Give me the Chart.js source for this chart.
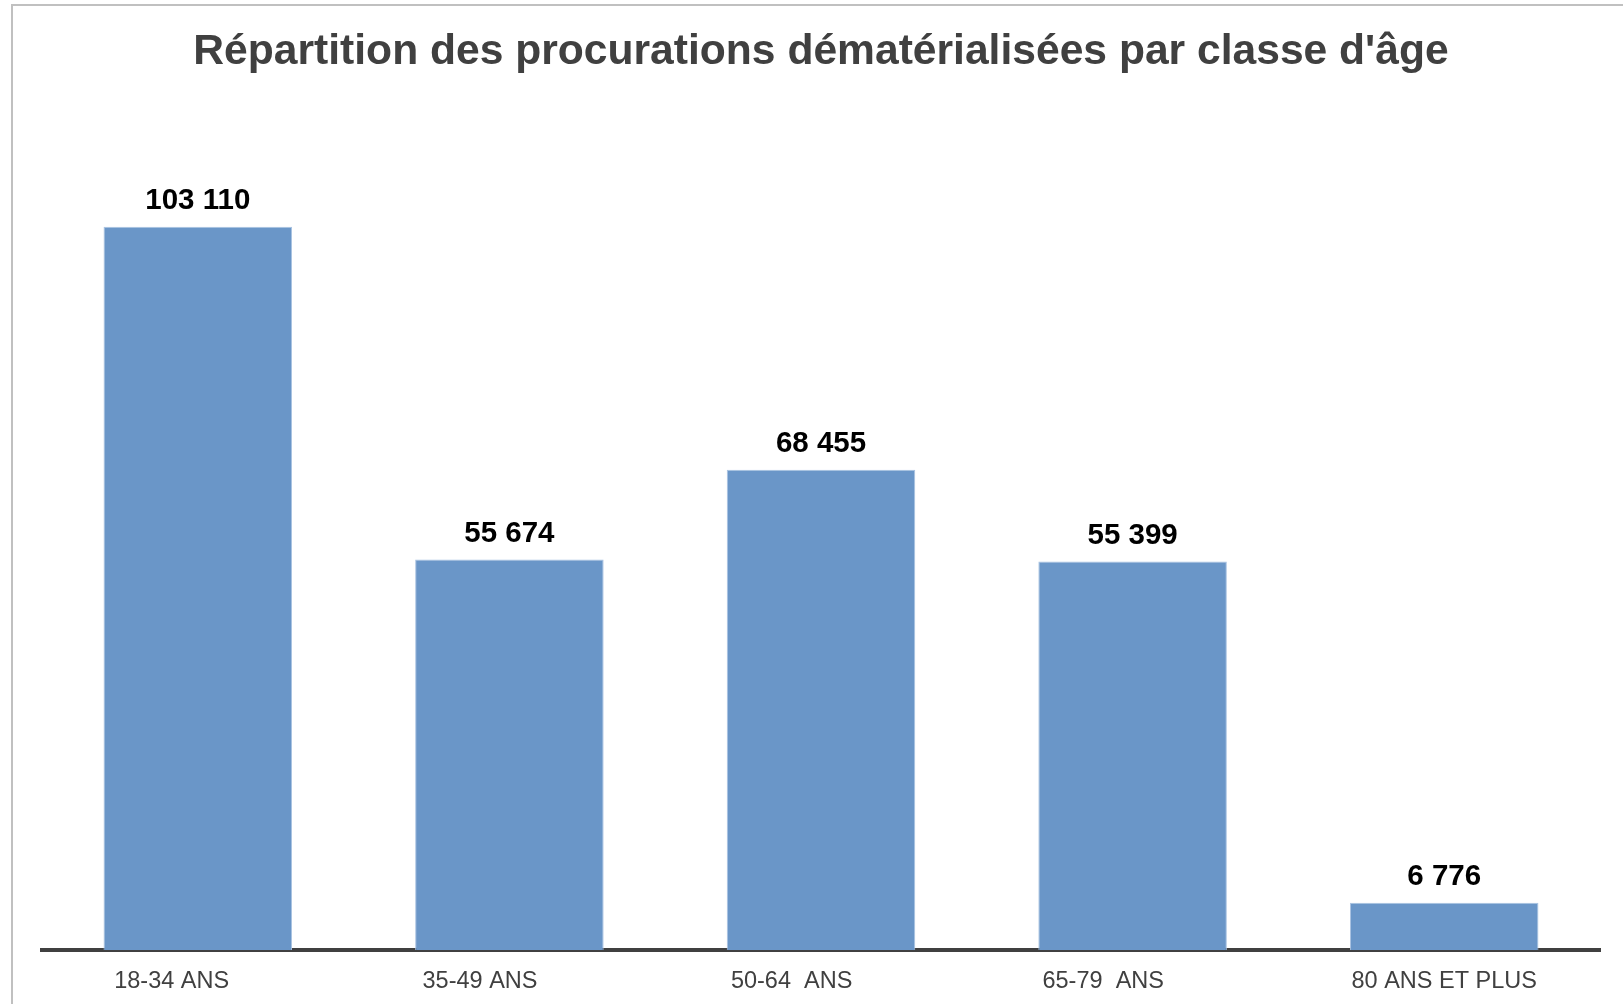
<!DOCTYPE html>
<html>
<head>
<meta charset="utf-8">
<script src="https://cdn.jsdelivr.net/npm/chart.js@4"></script>
<style>
html,body{margin:0;padding:0;background:#fff;overflow:hidden;}
#wrap{width:1623px;height:1014px;position:relative;}
</style>
</head>
<body>
<div id="wrap"><canvas id="c"></canvas></div>
<script>
const titleText = "Répartition des procurations dématérialisées par classe d'âge";
const categories = ["18-34 ANS", "35-49 ANS", "50-64  ANS", "65-79  ANS", "80 ANS ET PLUS"];
const labelPad = ["        ", "         ", "         ", "         ", ""];
const values = [103110, 55674, 68455, 55399, 6776];
const yMin = 0;
const yMax = 120000;

function fmt(v){ return String(v).replace(/\B(?=(\d{3})+(?!\d))/g, " "); }

const framePlugin = {
  id: 'frame',
  beforeDraw(chart){
    const ctx = chart.ctx;
    ctx.save();
    ctx.fillStyle = '#ffffff';
    ctx.fillRect(0,0,chart.width,chart.height);
    ctx.strokeStyle = '#c0c0c0';
    ctx.lineWidth = 2;
    ctx.strokeRect(12, 5, chart.width + 40, chart.height + 40);
    ctx.restore();
  }
};

const valueLabels = {
  id: 'valueLabels',
  afterDatasetsDraw(chart){
    const ctx = chart.ctx;
    const meta = chart.getDatasetMeta(0);
    ctx.save();
    ctx.font = 'bold 29.5px "Liberation Sans", Arial, sans-serif';
    ctx.fillStyle = '#000000';
    ctx.textAlign = 'center';
    ctx.textBaseline = 'middle';
    meta.data.forEach((bar, i) => {
      ctx.fillText(fmt(values[i]), bar.x, bar.y - 26);
    });
    ctx.restore();
  }
};

new Chart(document.getElementById('c'), {
  type: 'bar',
  data: {
    labels: categories.map((c, i) => c + labelPad[i]),
    datasets: [{
      data: values,
      backgroundColor: '#6a96c8',
      borderColor: '#a9c3e2',
      borderWidth: 1,
      barPercentage: 0.605,
      categoryPercentage: 1.0
    }]
  },
  options: {
    responsive: true,
    maintainAspectRatio: false,
    animation: false,
    events: [],
    layout: { padding: { left: 42, right: 23, top: 0, bottom: 0.5 } },
    plugins: {
      legend: { display: false },
      tooltip: { enabled: false },
      title: {
        display: true,
        text: titleText,
        color: '#404040',
        font: { family: '"Liberation Sans", Arial, sans-serif', size: 42.6, weight: 'bold', lineHeight: 1.2 },
        padding: { top: 27, bottom: 30 }
      }
    },
    scales: {
      x: {
        grid: { display: false, drawTicks: false },
        border: { display: true, width: 4, color: '#404040' },
        ticks: {
          color: '#404040',
          padding: 17.5,
          font: { family: '"Liberation Sans", Arial, sans-serif', size: 23.5 },
          maxRotation: 0,
          autoSkip: false
        }
      },
      y: {
        display: false,
        min: yMin,
        max: yMax
      }
    }
  },
  plugins: [framePlugin, valueLabels]
});
</script>
</body>
</html>
